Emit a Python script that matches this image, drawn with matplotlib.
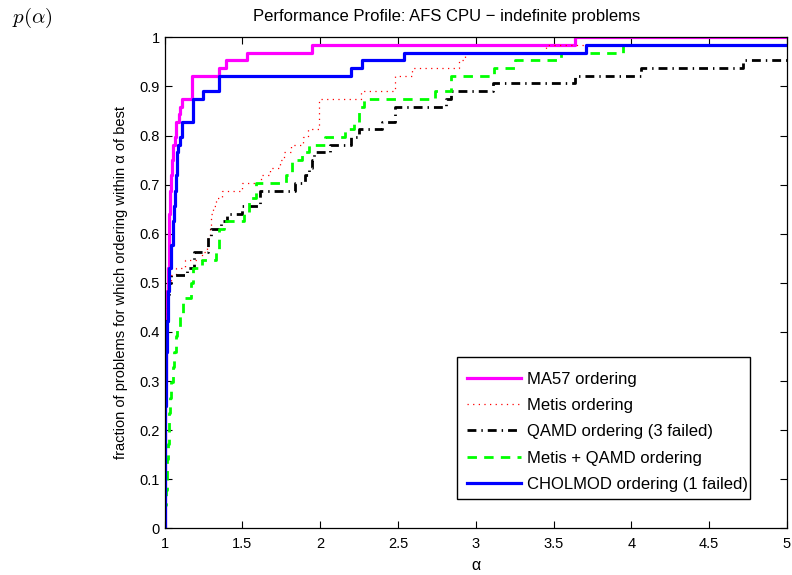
import numpy as np
import matplotlib
matplotlib.use("Agg")
import matplotlib.pyplot as plt
from matplotlib.patches import Rectangle

# 性能曲线：alpha 断点与该点之后的问题比例 (stairs)
ma57_alpha = [1.0, 1.0, 1.005, 1.01, 1.015, 1.02, 1.025, 1.03, 1.035, 1.04, 1.045,
              1.05, 1.065, 1.075, 1.09, 1.10, 1.113, 1.175, 1.35, 1.395, 1.53, 1.95, 3.64]
ma57_frac = [0.0, 0.297, 0.359, 0.422, 0.484, 0.531, 0.594, 0.641, 0.688, 0.719, 0.750,
             0.781, 0.797, 0.828, 0.844, 0.859, 0.875, 0.922, 0.938, 0.953, 0.969, 0.984, 1.0]

metis_alpha = [1.0, 1.0, 1.02, 1.04, 1.07, 1.13, 1.24, 1.27, 1.28, 1.29, 1.30, 1.31, 1.33,
               1.37, 1.50, 1.62, 1.68, 1.74, 1.77, 1.81, 1.89, 1.92, 1.99, 2.26, 2.48,
               2.59, 2.89, 2.93, 3.45]
metis_frac = [0.0, 0.453, 0.500, 0.516, 0.531, 0.547, 0.563, 0.578, 0.594, 0.609, 0.641,
              0.656, 0.672, 0.688, 0.703, 0.719, 0.734, 0.750, 0.766, 0.781, 0.797, 0.813,
              0.875, 0.891, 0.922, 0.938, 0.953, 0.969, 0.984]

qamd_alpha = [1.0, 1.0, 1.02, 1.03, 1.04, 1.14, 1.19, 1.28, 1.30, 1.36, 1.40, 1.50, 1.61,
              1.84, 1.90, 1.93, 1.95, 1.96, 2.06, 2.20, 2.25, 2.40, 2.48, 2.81, 2.84,
              3.11, 3.64, 4.06, 4.72]
qamd_frac = [0.0, 0.422, 0.469, 0.500, 0.516, 0.531, 0.563, 0.594, 0.609, 0.625, 0.641,
             0.656, 0.688, 0.703, 0.719, 0.734, 0.750, 0.766, 0.781, 0.797, 0.813, 0.828,
             0.859, 0.875, 0.891, 0.906, 0.922, 0.938, 0.953]

mq_alpha = [1.0, 1.0, 1.004, 1.008, 1.012, 1.016, 1.02, 1.025, 1.03, 1.036, 1.043, 1.053,
            1.062, 1.07, 1.08, 1.10, 1.12, 1.17, 1.18, 1.24, 1.33, 1.35, 1.38, 1.51, 1.54,
            1.59, 1.78, 1.82, 1.88, 1.93, 2.03, 2.16, 2.22, 2.25, 2.28, 2.74, 2.84, 3.12,
            3.25, 3.55, 3.95]
mq_frac = [0.0, 0.016, 0.047, 0.078, 0.109, 0.141, 0.172, 0.203, 0.234, 0.266, 0.297, 0.328,
           0.359, 0.391, 0.406, 0.438, 0.469, 0.500, 0.531, 0.547, 0.563, 0.609, 0.625,
           0.641, 0.672, 0.703, 0.719, 0.750, 0.766, 0.781, 0.797, 0.813, 0.828, 0.859,
           0.875, 0.891, 0.922, 0.938, 0.953, 0.969, 0.984]

chol_alpha = [1.0, 1.0, 1.005, 1.01, 1.015, 1.02, 1.03, 1.04, 1.05, 1.06, 1.065, 1.07, 1.08,
              1.085, 1.096, 1.113, 1.18, 1.245, 1.35, 2.20, 2.27, 2.54, 3.71]
chol_frac = [0.0, 0.25, 0.297, 0.359, 0.422, 0.484, 0.531, 0.578, 0.625, 0.656, 0.688, 0.719,
             0.766, 0.781, 0.797, 0.828, 0.875, 0.891, 0.922, 0.938, 0.953, 0.969, 0.984]

labels = ["MA57 ordering", "Metis ordering", "QAMD ordering (3 failed)",
          "Metis + QAMD ordering", "CHOLMOD ordering (1 failed)"]

x_ticks = [1, 1.5, 2, 2.5, 3, 3.5, 4, 4.5, 5]
x_ticklabels = ["1", "1.5", "2", "2.5", "3", "3.5", "4", "4.5", "5"]
y_ticks = [0, 0.1, 0.2, 0.3, 0.4, 0.5, 0.6, 0.7, 0.8, 0.9, 1]
y_ticklabels = ["0", "0.1", "0.2", "0.3", "0.4", "0.5", "0.6", "0.7", "0.8", "0.9", "1"]

plt.rcParams["font.family"] = ["Liberation Sans", "DejaVu Sans"]
plt.rcParams["mathtext.fontset"] = "cm"

fig = plt.figure(figsize=(7.92, 5.75), dpi=100)
ax = fig.add_axes([0.208, 0.0812, 0.7854, 0.8539])

series = [
    (ma57_alpha, ma57_frac, dict(color="#ff00ff", lw=2.3, ls="-")),
    (metis_alpha, metis_frac, dict(color="#ff0000", lw=0.9, ls=(0, (1, 3.5)))),
    (qamd_alpha, qamd_frac, dict(color="black", lw=2.0, ls=(0, (3.2, 1.8, 0.5, 1.8)))),
    (mq_alpha, mq_frac, dict(color="#00ff00", lw=2.0, ls=(0, (3.4, 2.6)))),
    (chol_alpha, chol_frac, dict(color="#0000ff", lw=2.3, ls="-")),
]

for (alpha, frac, style), label in zip(series, labels):
    a = np.append(alpha, 5.0)
    f = np.append(frac, frac[-1])
    ax.plot(a, f, drawstyle="steps-post", label=label, **style)

ax.set_xlim(1, 5)
ax.set_ylim(0, 1)
ax.set_xticks(x_ticks)
ax.set_xticklabels(x_ticklabels)
ax.set_yticks(y_ticks)
ax.set_yticklabels(y_ticklabels)
ax.tick_params(direction="in", length=5, width=0.8, top=True, right=True, labelsize=10.5)
ax.tick_params(axis="x", pad=6)
for sp in ax.spines.values():
    sp.set_linewidth(0.9)

ax.set_xlabel("α", fontsize=11.5, labelpad=5)
ax.set_ylabel("fraction of problems for which ordering within α of best", fontsize=10.5,
              labelpad=8)
fig.text(447 / 792, 1 - 17 / 575, "Performance Profile: AFS CPU − indefinite problems",
         ha="center", va="center", fontsize=12)
fig.text(12 / 792, 1 - 18 / 575, r"$p(\alpha)$", ha="left", va="center", fontsize=15)

# 图例框单独画 (MATLAB 风格，文字略超出边框)
ax.add_patch(Rectangle((0.470, 0.0597), 0.471, 0.2892, transform=ax.transAxes,
                       facecolor="white", edgecolor="black", lw=1.0, zorder=4))
leg = ax.legend(loc="upper left", bbox_to_anchor=(0.4732, 0.3346), borderaxespad=0,
                frameon=False, fontsize=12,
                handlelength=3.25, handletextpad=0.35, labelspacing=0.68,
                borderpad=0.45)
leg.set_zorder(5)

plt.savefig("out.png", dpi=100)
plt.close(fig)
